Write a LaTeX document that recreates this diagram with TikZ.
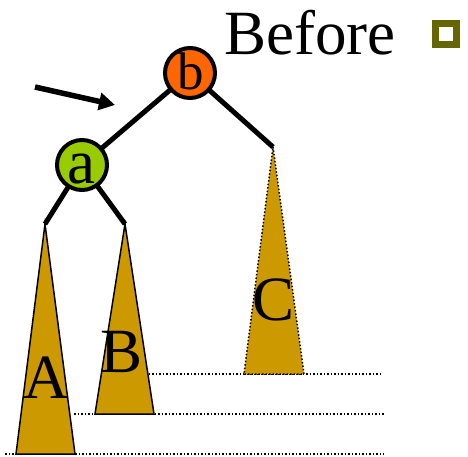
\documentclass[tikz,border=0pt]{standalone}
\usepackage{fontspec}
\setmainfont{Liberation Serif}
\usetikzlibrary{arrows.meta}
\definecolor{borange}{HTML}{FF6600}
\definecolor{agreen}{HTML}{99CC00}
\definecolor{tgold}{HTML}{CC9900}
\definecolor{olivebox}{HTML}{666600}
\tikzset{
  treenode/.style={circle, draw=black, line width=4pt, minimum size=50pt, inner sep=0pt},
  edgeline/.style={line width=5pt},
  subtree/.style={fill=tgold, draw=black, line width=1.5pt, line join=miter},
  subtreedot/.style={fill=tgold, draw=black, line width=1.5pt, dotted},
  levelline/.style={line width=1.5pt, dotted},
  bigtext/.style={font=\fontsize{63}{70}\selectfont, inner sep=0pt, anchor=base},
}
\begin{document}
\begin{tikzpicture}[x=1pt,y=-1pt]
\useasboundingbox (0,0) rectangle (468,457);
% coordinates
\coordinate (atop) at (45,224);
\coordinate (btop) at (125,224);
\coordinate (ctop) at (273,147);
\coordinate (aL) at (16,454);
\coordinate (aR) at (75,454);
\coordinate (bL) at (95,414);
\coordinate (bR) at (154,414);
\coordinate (cL) at (244,374);
\coordinate (cR) at (304,374);
% level lines
\coordinate (l1s) at (145,374); \coordinate (l1e) at (382,374);
\coordinate (l2s) at (74,414);  \coordinate (l2e) at (384,414);
\coordinate (l3s) at (5,454);   \coordinate (l3e) at (384,454);
\draw[levelline] (l1s) -- (l1e);
\draw[levelline] (l2s) -- (l2e);
\draw[levelline] (l3s) -- (l3e);
% subtrees
\draw[subtree] (atop) -- (aR) -- (aL) -- cycle;
\draw[subtree] (btop) -- (bR) -- (bL) -- cycle;
\draw[subtreedot] (ctop) -- (cR) -- (cL) -- cycle;
% nodes positions
\coordinate (bc) at (190,73);
\coordinate (ac) at (82,165);
\draw[edgeline] (bc) -- (ctop);
\draw[edgeline] (bc) -- (ac);
\draw[edgeline] (ac) -- (atop);
\draw[edgeline] (ac) -- (btop);
\node[treenode, fill=borange] (b) at (bc) {};
\node[treenode, fill=agreen] (a) at (ac) {};
\node[bigtext, font=\fontsize{53}{60}\selectfont] (blab) at (191,90) {b};
\node[bigtext] (alab) at (81,183) {a};
% subtree labels
\node[bigtext] (Alab) at (46,398) {A};
\node[bigtext] (Blab) at (122,372) {B};
\node[bigtext] (Clab) at (274,320) {C};
% title
\node[bigtext, anchor=base west] (title) at (224,55) {Before};
\node[draw=olivebox, line width=7pt, minimum size=21pt, inner sep=0pt] (sq) at (445.5,34) {};
% arrow
\coordinate (as) at (35,87);
\coordinate (ae) at (115,105);
\draw[line width=5.5pt, -{Triangle[length=16pt,width=17pt]}] (as) -- (ae);
\end{tikzpicture}
\end{document}
